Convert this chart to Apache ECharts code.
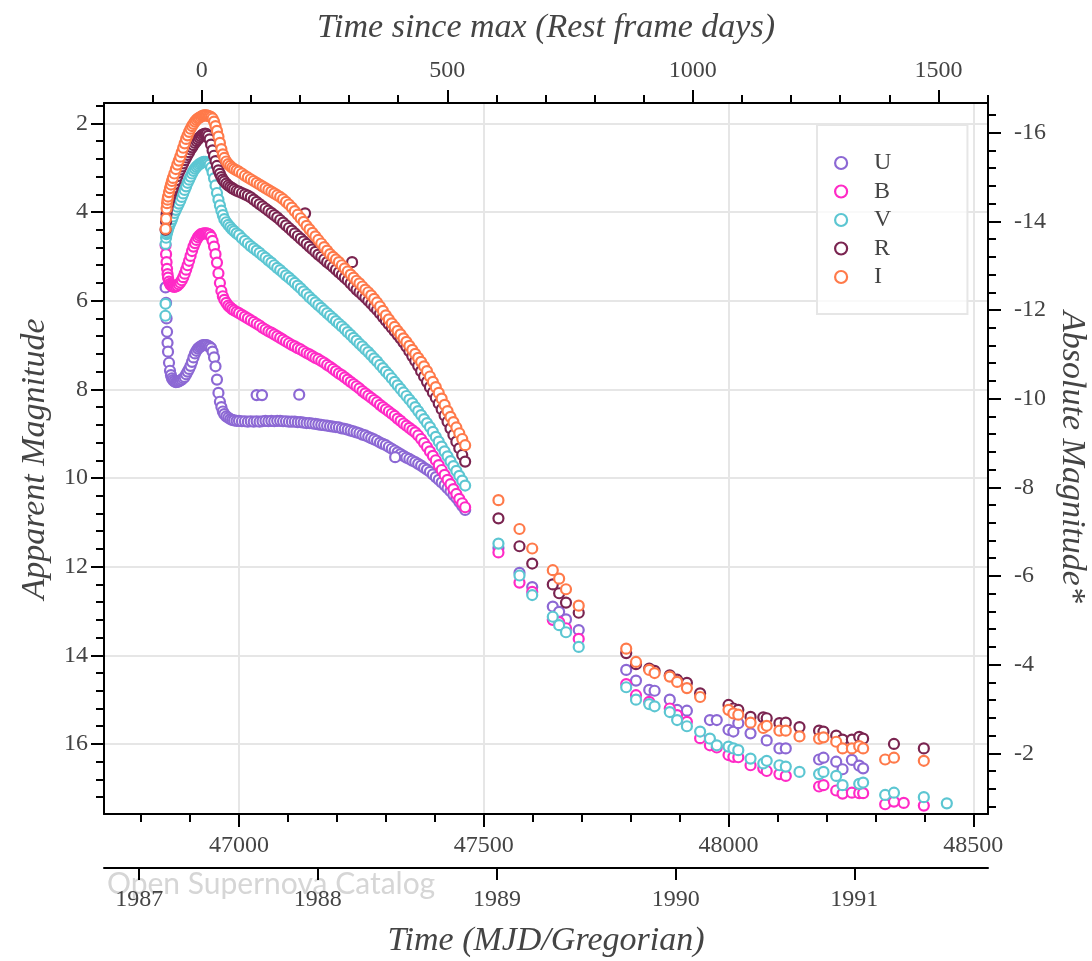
<!DOCTYPE html>
<html>
<head>
<meta charset="utf-8">
<script src="https://cdn.jsdelivr.net/npm/echarts@6/dist/echarts.min.js"></script>
<style>
  html, body { margin: 0; padding: 0; background: #ffffff; }
  #chart { width: 1092px; height: 961px; }
</style>
</head>
<body>
<div id="chart"></div>
<script>
// ---------------- SN 1987A UBVRI photometry ----------------
const bands = ['U', 'B', 'V', 'R', 'I'];
const bandColors = ['#8c68d4', '#ff2ac6', '#5cc6d2', '#7a2450', '#ff7a4a'];

// Nights of the dense monitoring campaign (MJD)
const denseDays = [
  46850, 46851, 46852, 46853, 46854, 46855, 46857, 46859, 46861, 46863, 46865,
  46868, 46871, 46874, 46877, 46880, 46883, 46886, 46889, 46892, 46895, 46898,
  46901, 46904, 46907, 46910, 46913, 46916, 46919, 46922, 46925, 46928, 46931,
  46934, 46937, 46940, 46943, 46946, 46949, 46952, 46955, 46958, 46961, 46964,
  46967, 46970, 46974, 46978, 46982, 46986, 46990, 46995,
  47000, 47006, 47012, 47018, 47024, 47030, 47036, 47042, 47048, 47054,
  47060, 47066, 47072, 47078, 47084, 47090, 47096, 47102, 47108, 47114,
  47120, 47126, 47132, 47138, 47144, 47150, 47156, 47162, 47168, 47174,
  47180, 47186, 47192, 47198, 47204, 47210, 47216, 47222, 47228, 47234,
  47240, 47246, 47252, 47258, 47264, 47270, 47276, 47282, 47288, 47294,
  47300, 47306, 47312, 47318, 47324, 47330, 47336, 47342, 47348, 47354,
  47360, 47366, 47372, 47378, 47384, 47390, 47396, 47402, 47408, 47414,
  47420, 47426, 47432, 47438, 47444, 47450, 47456, 47462
];

const denseU = [
  5.70, 6.05, 6.40, 6.70, 6.95, 7.15, 7.40, 7.58, 7.68, 7.75, 7.79,
  7.82, 7.84, 7.83, 7.82, 7.80, 7.78, 7.75, 7.72, 7.66, 7.60, 7.54,
  7.47, 7.38, 7.28, 7.19, 7.13, 7.08, 7.05, 7.03, 7.01, 7.00, 7.00,
  7.00, 7.02, 7.04, 7.07, 7.15, 7.28, 7.48, 7.78, 8.08, 8.28, 8.40,
  8.50, 8.56, 8.61, 8.64, 8.67, 8.69, 8.70, 8.71,
  8.71, 8.72, 8.72, 8.73, 8.72, 8.73, 8.72, 8.73, 8.72, 8.71,
  8.72, 8.71, 8.72, 8.71, 8.71, 8.72, 8.72, 8.73, 8.73, 8.73,
  8.74, 8.74, 8.75, 8.76, 8.76, 8.77, 8.78, 8.79, 8.80, 8.81,
  8.82, 8.83, 8.84, 8.85, 8.86, 8.88, 8.89, 8.91, 8.93, 8.95,
  8.97, 8.99, 9.02, 9.04, 9.07, 9.10, 9.13, 9.16, 9.20, 9.23,
  9.26, 9.30, 9.34, 9.38, 9.42, 9.46, 9.50, 9.54, 9.57, 9.61,
  9.64, 9.68, 9.72, 9.77, 9.81, 9.86, 9.92, 9.98, 10.04, 10.10,
  10.16, 10.23, 10.30, 10.38, 10.45, 10.54, 10.63, 10.72
];

const denseB = [
  4.75, 4.95, 5.13, 5.28, 5.40, 5.48, 5.57, 5.62, 5.65, 5.67, 5.68,
  5.69, 5.68, 5.66, 5.63, 5.59, 5.54, 5.47, 5.39, 5.30, 5.20, 5.10,
  4.99, 4.88, 4.78, 4.70, 4.63, 4.57, 4.53, 4.50, 4.49, 4.48, 4.48,
  4.48, 4.49, 4.51, 4.56, 4.65, 4.78, 4.95, 5.14, 5.38, 5.60, 5.78,
  5.90, 5.98, 6.05, 6.11, 6.15, 6.19, 6.22, 6.25,
  6.28, 6.32, 6.36, 6.40, 6.44, 6.48, 6.52, 6.56, 6.61, 6.65,
  6.69, 6.72, 6.76, 6.80, 6.84, 6.88, 6.92, 6.96, 7.00, 7.03,
  7.07, 7.10, 7.14, 7.18, 7.21, 7.25, 7.29, 7.32, 7.36, 7.40,
  7.45, 7.49, 7.54, 7.59, 7.64, 7.68, 7.73, 7.78, 7.83, 7.88,
  7.93, 7.98, 8.04, 8.09, 8.14, 8.19, 8.24, 8.29, 8.35, 8.40,
  8.45, 8.50, 8.55, 8.60, 8.66, 8.71, 8.77, 8.82, 8.87, 8.92,
  8.97, 9.04, 9.12, 9.21, 9.30, 9.40, 9.50, 9.60, 9.71, 9.82,
  9.93, 10.04, 10.14, 10.25, 10.36, 10.47, 10.57, 10.66
];

const denseV = [
  4.72, 4.58, 4.50, 4.46, 4.42, 4.38, 4.32, 4.27, 4.22, 4.16, 4.10,
  4.02, 3.95, 3.88, 3.81, 3.74, 3.66, 3.58, 3.50, 3.42, 3.34, 3.27,
  3.20, 3.13, 3.07, 3.02, 2.98, 2.95, 2.92, 2.90, 2.88, 2.87, 2.87,
  2.88, 2.90, 2.93, 3.00, 3.10, 3.24, 3.40, 3.57, 3.72, 3.85, 3.97,
  4.07, 4.16, 4.23, 4.29, 4.34, 4.39, 4.43, 4.48,
  4.52, 4.59, 4.65, 4.71, 4.77, 4.82, 4.87, 4.92, 4.98, 5.03,
  5.09, 5.14, 5.20, 5.26, 5.31, 5.37, 5.43, 5.48, 5.54, 5.60,
  5.66, 5.72, 5.79, 5.85, 5.92, 5.98, 6.04, 6.10, 6.16, 6.22,
  6.28, 6.34, 6.40, 6.46, 6.52, 6.58, 6.64, 6.71, 6.77, 6.84,
  6.90, 6.97, 7.03, 7.10, 7.16, 7.23, 7.30, 7.37, 7.45, 7.52,
  7.60, 7.67, 7.75, 7.83, 7.91, 7.99, 8.07, 8.15, 8.23, 8.31,
  8.40, 8.49, 8.58, 8.67, 8.76, 8.85, 8.96, 9.07, 9.18, 9.29,
  9.40, 9.51, 9.62, 9.73, 9.84, 9.95, 10.06, 10.17
];

const denseR = [
  4.40, 4.22, 4.05, 3.95, 3.88, 3.82, 3.74, 3.66, 3.59, 3.52, 3.46,
  3.37, 3.28, 3.19, 3.11, 3.04, 2.97, 2.90, 2.83, 2.77, 2.71, 2.65,
  2.59, 2.54, 2.49, 2.44, 2.40, 2.36, 2.32, 2.29, 2.26, 2.24, 2.23,
  2.24, 2.28, 2.36, 2.48, 2.61, 2.73, 2.85, 2.96, 3.06, 3.14, 3.21,
  3.27, 3.31, 3.36, 3.40, 3.43, 3.46, 3.49, 3.52,
  3.54, 3.57, 3.60, 3.63, 3.67, 3.72, 3.77, 3.82, 3.87, 3.92,
  3.97, 4.02, 4.07, 4.12, 4.18, 4.24, 4.30, 4.36, 4.42, 4.48,
  4.54, 4.60, 4.66, 4.72, 4.78, 4.84, 4.90, 4.96, 5.01, 5.07,
  5.13, 5.18, 5.24, 5.30, 5.36, 5.42, 5.48, 5.54, 5.61, 5.68,
  5.75, 5.81, 5.87, 5.93, 6.00, 6.07, 6.14, 6.21, 6.29, 6.37,
  6.45, 6.53, 6.61, 6.69, 6.77, 6.85, 6.94, 7.04, 7.14, 7.25,
  7.36, 7.47, 7.59, 7.71, 7.83, 7.95, 8.07, 8.19, 8.32, 8.45,
  8.59, 8.73, 8.88, 9.03, 9.18, 9.33, 9.48, 9.63
];

const denseI = [
  4.38, 4.15, 3.92, 3.80, 3.72, 3.65, 3.55, 3.46, 3.38, 3.30, 3.23,
  3.13, 3.03, 2.93, 2.84, 2.75, 2.65, 2.55, 2.45, 2.35, 2.27, 2.19,
  2.12, 2.06, 2.01, 1.96, 1.92, 1.89, 1.87, 1.85, 1.83, 1.82, 1.82,
  1.82, 1.83, 1.84, 1.86, 1.89, 1.96, 2.06, 2.17, 2.30, 2.44, 2.58,
  2.70, 2.78, 2.86, 2.92, 2.96, 3.00, 3.03, 3.06,
  3.09, 3.13, 3.18, 3.22, 3.26, 3.30, 3.34, 3.38, 3.42, 3.46,
  3.50, 3.54, 3.58, 3.62, 3.66, 3.71, 3.77, 3.83, 3.90, 3.98,
  4.06, 4.14, 4.22, 4.31, 4.39, 4.47, 4.55, 4.63, 4.71, 4.79,
  4.87, 4.95, 5.01, 5.07, 5.13, 5.20, 5.27, 5.34, 5.41, 5.48,
  5.55, 5.61, 5.68, 5.75, 5.81, 5.88, 5.96, 6.04, 6.13, 6.23,
  6.33, 6.42, 6.51, 6.59, 6.68, 6.76, 6.85, 6.93, 7.02, 7.11,
  7.20, 7.29, 7.38, 7.48, 7.59, 7.71, 7.83, 7.95, 8.08, 8.21,
  8.35, 8.49, 8.62, 8.74, 8.86, 8.99, 9.12, 9.26
];

// Isolated measurements inside the campaign window: [MJD, mag]
const extraU = [[47036, 8.13], [47047, 8.13], [47123, 8.12], [47319, 9.53]];
const extraB = [];
const extraV = [[46849.6, 6.34], [46849.9, 6.07]];
const extraR = [[47135, 4.03], [47231, 5.13]];
const extraI = [];

// Nebular-phase measurements: [MJD, mag]
const lateU = [[47530, 11.58], [47573, 12.14], [47599, 12.46], [47641, 12.90], [47654, 13.02], [47668, 13.19], [47694, 13.43],
  [47791, 14.33], [47811, 14.57], [47838, 14.78], [47849, 14.80], [47880, 15.00], [47895, 15.23], [47915, 15.25],
  [47962, 15.46], [47976, 15.46], [48000, 15.68], [48010, 15.72], [48020, 15.53], [48045, 15.76], [48078, 15.92],
  [48104, 16.10], [48117, 16.10], [48185, 16.35], [48194, 16.31], [48220, 16.40], [48233, 16.57], [48252, 16.36],
  [48267, 16.49], [48275, 16.55]];
const lateB = [[47530, 11.68], [47573, 12.36], [47599, 12.57], [47641, 13.20], [47654, 13.25], [47668, 13.39], [47694, 13.63],
  [47791, 14.65], [47811, 14.90], [47838, 15.05], [47880, 15.20], [47895, 15.35], [47915, 15.50], [47942, 15.87],
  [47962, 16.03], [47976, 16.08], [48000, 16.25], [48010, 16.29], [48020, 16.30], [48045, 16.48], [48071, 16.55],
  [48078, 16.61], [48104, 16.68], [48117, 16.72], [48185, 16.96], [48194, 16.93], [48220, 17.05], [48233, 17.12],
  [48252, 17.10], [48267, 17.11], [48275, 17.11], [48320, 17.36], [48338, 17.30], [48358, 17.33], [48399, 17.39]];
const lateV = [[47530, 11.48], [47573, 12.20], [47599, 12.64], [47641, 13.13], [47654, 13.32], [47668, 13.48], [47694, 13.81],
  [47791, 14.72], [47811, 15.00], [47838, 15.10], [47849, 15.15], [47880, 15.28], [47895, 15.46], [47915, 15.60],
  [47942, 15.72], [47962, 15.88], [47976, 16.03], [48000, 16.06], [48010, 16.10], [48020, 16.14], [48045, 16.33],
  [48071, 16.44], [48078, 16.38], [48104, 16.48], [48117, 16.51], [48145, 16.63], [48185, 16.68], [48194, 16.63],
  [48220, 16.72], [48233, 16.93], [48267, 16.90], [48275, 16.87], [48320, 17.15], [48338, 17.10], [48399, 17.20],
  [48446, 17.34]];
const lateR = [[47530, 10.91], [47573, 11.54], [47599, 11.93], [47641, 12.40], [47654, 12.60], [47668, 12.81], [47694, 13.04],
  [47791, 13.95], [47811, 14.20], [47838, 14.30], [47849, 14.35], [47880, 14.45], [47895, 14.55], [47915, 14.62],
  [47942, 14.86], [48000, 15.12], [48010, 15.20], [48020, 15.23], [48045, 15.39], [48071, 15.40], [48078, 15.42],
  [48104, 15.53], [48117, 15.52], [48145, 15.62], [48185, 15.70], [48194, 15.72], [48220, 15.81], [48233, 15.90],
  [48252, 15.90], [48267, 15.84], [48275, 15.88], [48338, 16.00], [48399, 16.10]];
const lateI = [[47530, 10.50], [47573, 11.15], [47599, 11.59], [47641, 12.08], [47654, 12.27], [47668, 12.51], [47694, 12.88],
  [47791, 13.85], [47811, 14.15], [47838, 14.33], [47849, 14.40], [47880, 14.48], [47895, 14.60], [47915, 14.74],
  [47942, 14.94], [48000, 15.23], [48010, 15.31], [48020, 15.34], [48045, 15.52], [48071, 15.64], [48078, 15.59],
  [48104, 15.70], [48117, 15.70], [48145, 15.83], [48185, 15.88], [48194, 15.85], [48220, 15.95], [48233, 16.10],
  [48252, 16.10], [48267, 16.05], [48275, 16.10], [48320, 16.35], [48338, 16.31], [48399, 16.38]];

// ---------------- axes ----------------
const mjdRange = [46724.2, 48530.1];
const mjdMajorTicks = [47000, 47500, 48000, 48500];
const mjdMinorTicks = [46800, 46900, 47100, 47200, 47300, 47400, 47600, 47700, 47800, 47900, 48100, 48200, 48300, 48400];
const yearTicks = [46796, 47161, 47527, 47892, 48257];   // 1 January of each year (MJD)
const yearLabels = ['1987', '1988', '1989', '1990', '1991'];
const daysRange = [-199, 1601];
const daysMajorTicks = [0, 500, 1000, 1500];
const daysMinorTicks = [-100, 100, 200, 300, 400, 600, 700, 800, 900, 1100, 1200, 1300, 1400, 1600];
const appRange = [1.54, 17.58];
const appMajorTicks = [2, 4, 6, 8, 10, 12, 14, 16];
const distanceOffset = 18.21;                              // apparent - absolute
const absMajorTicks = [-16, -14, -12, -10, -8, -6, -4, -2];

function subdivide(majors, lo, hi, step) {
  const out = [];
  const first = majors[0] - Math.ceil((majors[0] - lo) / step) * step;
  for (let v = first; v <= hi + 1e-9; v += step) {
    const r = Math.round(v * 10) / 10;
    if (r >= lo && r <= hi && !majors.some(m => Math.abs(m - r) < 1e-6)) out.push(r);
  }
  return out;
}
const absRange = [appRange[0] - distanceOffset, appRange[1] - distanceOffset];
const appMinorTicks = subdivide(appMajorTicks, appRange[0], appRange[1], 0.4);
const absMinorTicks = subdivide(absMajorTicks, absRange[0], absRange[1], 0.4);

const SERIF = '"Liberation Serif", "DejaVu Serif", serif';
const INK = '#444444';
const tickFont = { fontFamily: SERIF, fontSize: 24, color: INK };
const frameLine = { show: true, onZero: false, lineStyle: { color: '#000', width: 2 } };
const gridLine = { show: true, lineStyle: { color: '#e6e6e6', width: 2 } };

function majorAxis(base, ticks, margin, formatter, split) {
  return Object.assign({
    type: 'value', gridIndex: 0, scale: true,
    axisLine: frameLine,
    axisTick: { show: true, length: 13, customValues: ticks, lineStyle: { color: '#000', width: 2 } },
    axisLabel: Object.assign({ show: true, customValues: ticks, margin: margin, formatter: formatter }, tickFont),
    splitLine: split ? Object.assign({}, gridLine) : { show: false },
    minorTick: { show: false }, minorSplitLine: { show: false }
  }, base);
}
function minorAxis(base, ticks) {
  return Object.assign({
    type: 'value', gridIndex: 0, scale: true,
    axisLine: { show: false, onZero: false },
    axisTick: { show: true, length: 8, customValues: ticks, lineStyle: { color: '#000', width: 2 } },
    axisLabel: { show: false },
    splitLine: { show: false }
  }, base);
}
const plain = v => String(v);

const xAxes = [
  majorAxis({ position: 'bottom', min: mjdRange[0], max: mjdRange[1] }, mjdMajorTicks, 20, plain, true),
  minorAxis({ position: 'bottom', min: mjdRange[0], max: mjdRange[1] }, mjdMinorTicks),
  majorAxis({ position: 'bottom', offset: 54, min: mjdRange[0], max: mjdRange[1] }, yearTicks, 20,
    v => yearLabels[yearTicks.indexOf(v)], false),
  majorAxis({ position: 'top', min: daysRange[0], max: daysRange[1] }, daysMajorTicks, 20, plain, false),
  minorAxis({ position: 'top', min: daysRange[0], max: daysRange[1] }, daysMinorTicks)
];
xAxes[2].axisTick.length = 12;

const yAxes = [
  majorAxis({ position: 'left', inverse: true, min: appRange[0], max: appRange[1] }, appMajorTicks, 16, plain, true),
  minorAxis({ position: 'left', inverse: true, min: appRange[0], max: appRange[1] }, appMinorTicks),
  majorAxis({ position: 'right', inverse: true, min: absRange[0], max: absRange[1] }, absMajorTicks, 26, plain, false),
  minorAxis({ position: 'right', inverse: true, min: absRange[0], max: absRange[1] }, absMinorTicks)
];

// ---------------- series ----------------
const denseMags = [denseU, denseB, denseV, denseR, denseI];
const extras = [extraU, extraB, extraV, extraR, extraI];
const lates = [lateU, lateB, lateV, lateR, lateI];

const series = bands.map((b, k) => ({
  name: b,
  type: 'scatter',
  xAxisIndex: 0,
  yAxisIndex: 0,
  symbol: 'circle',
  symbolSize: 10,
  itemStyle: { color: '#ffffff', borderColor: bandColors[k], borderWidth: 2.2, opacity: 1 },
  emphasis: { disabled: true },
  data: denseDays.map((d, i) => [d, denseMags[k][i]]).concat(extras[k], lates[k])
}));

const chart = echarts.init(document.getElementById('chart'), null, { renderer: 'canvas' });
chart.setOption({
  animation: false,
  backgroundColor: '#ffffff',
  grid: { left: 104, top: 103, width: 884, height: 711, containLabel: false },
  xAxis: xAxes,
  yAxis: yAxes,
  legend: {
    orient: 'vertical',
    left: 817, top: 125,
    padding: [26, 76, 25, 17],
    itemWidth: 56, itemHeight: 12, itemGap: 4.5,
    borderColor: '#e6e6e6', borderWidth: 2,
    backgroundColor: 'rgba(255,255,255,0.75)',
    textStyle: { fontFamily: SERIF, fontSize: 24, color: INK, lineHeight: 24 },
    selectedMode: false,
    data: bands.map((b, k) => ({
      name: b, icon: 'circle',
      itemStyle: { color: '#ffffff', borderColor: bandColors[k], borderWidth: 2.2 }
    }))
  },
  graphic: [
    { type: 'text', x: 546, y: 28, z: 10,
      style: { text: 'Time since max (Rest frame days)', align: 'center', verticalAlign: 'middle',
        font: 'italic 34px ' + SERIF, fill: INK } },
    { type: 'text', x: 546, y: 941, z: 10,
      style: { text: 'Time (MJD/Gregorian)', align: 'center', verticalAlign: 'middle',
        font: 'italic 34px ' + SERIF, fill: INK } },
    { type: 'text', x: 35, y: 459, rotation: Math.PI / 2, z: 10,
      style: { text: 'Apparent Magnitude', align: 'center', verticalAlign: 'middle',
        font: 'italic 34px ' + SERIF, fill: INK } },
    { type: 'text', x: 1072, y: 457, rotation: -Math.PI / 2, z: 10,
      style: { text: 'Absolute Magnitude*', align: 'center', verticalAlign: 'middle',
        font: 'italic 34px ' + SERIF, fill: INK } },
    { type: 'text', x: 107, y: 884, z: -1,
      style: { text: 'Open Supernova Catalog', align: 'left', verticalAlign: 'middle',
        font: '30px Lato, "Open Sans", sans-serif', fill: '#d6d6d6' } }
  ],
  series: series
});
</script>
</body>
</html>
